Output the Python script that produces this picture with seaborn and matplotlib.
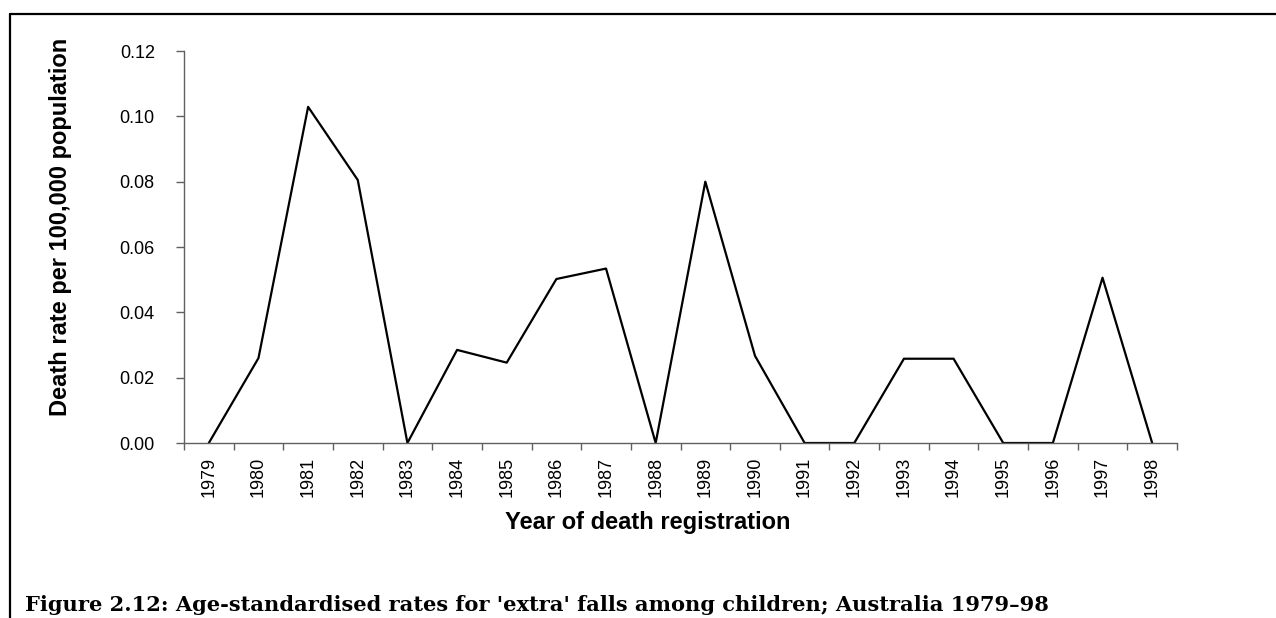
import numpy as np
import pandas as pd
import matplotlib
matplotlib.use("Agg")
import matplotlib.pyplot as plt
from matplotlib.lines import Line2D
import seaborn as sns

# Data
years = ["1979", "1980", "1981", "1982", "1983", "1984", "1985", "1986", "1987", "1988",
         "1989", "1990", "1991", "1992", "1993", "1994", "1995", "1996", "1997", "1998"]
rates = [0.0, 0.026, 0.1029, 0.0805, 0.0, 0.0285, 0.0246, 0.0502, 0.0534, 0.0,
         0.0800, 0.0267, 0.0, 0.0, 0.0258, 0.0258, 0.0, 0.0, 0.0506, 0.0]
y_ticks = [0.00, 0.02, 0.04, 0.06, 0.08, 0.10, 0.12]

x_label = "Year of death registration"
y_label = "Death rate per 100,000 population"
caption = "Figure 2.12: Age-standardised rates for 'extra' falls among children; Australia 1979\u201398"

sns.set_style("white")
plt.rcParams['font.family'] = ['Liberation Sans', 'DejaVu Sans']
plt.rcParams['text.color'] = 'black'
plt.rcParams['axes.labelcolor'] = 'black'
plt.rcParams['xtick.color'] = 'black'
plt.rcParams['ytick.color'] = 'black'

df = pd.DataFrame({"year": years, "rate": rates})

fig = plt.figure(figsize=(12.76, 6.18), dpi=100)
ax = fig.add_axes([184 / 1276, 175 / 618, 993 / 1276, 392 / 618])

sns.lineplot(data=df, x="year", y="rate", color="black", linewidth=1.6, sort=False, ax=ax)

n = len(years)
ax.set_xlim(-0.5, n - 0.5)
ax.set_ylim(0, 0.12)

# y axis
ax.set_yticks(y_ticks)
ax.set_yticklabels([f"{v:.2f}" for v in y_ticks])
ax.tick_params(axis="y", direction="out", length=6, width=1, color="#606060",
               labelcolor="black", pad=15, labelsize=13, left=True)

# x axis: tick marks between categories, labels at category centres
ax.set_xticks(np.arange(-0.5, n, 1.0))
ax.set_xticklabels([])
ax.set_xticks(np.arange(n), minor=True)
ax.set_xticklabels(years, minor=True, rotation=90)
ax.tick_params(axis="x", which="major", direction="out", length=5, width=1,
               color="#606060", bottom=True)
ax.tick_params(axis="x", which="minor", length=0, pad=10, labelsize=13,
               labelcolor="black", bottom=True)

for side in ["top", "right"]:
    ax.spines[side].set_visible(False)
for side in ["left", "bottom"]:
    ax.spines[side].set_color("#606060")
    ax.spines[side].set_linewidth(1)

ax.set_xlabel(x_label, fontsize=17, fontweight="bold", va="center", color="black")
ax.xaxis.set_label_coords((648 - 184) / 993, (443 - 522) / 392)
ax.set_ylabel(y_label, fontsize=17, fontweight="bold", va="center", color="black")
ax.yaxis.set_label_coords((61 - 184) / 993, (443 - 227) / 392)

# caption below the chart, sized to span the same width as in the reference
cap = fig.text(25 / 1276, 1 - 605 / 618, caption, family=["DejaVu Serif"],
               fontweight="bold", fontsize=15, ha="left", va="center", color="black")
renderer = fig.canvas.get_renderer()
w = cap.get_window_extent(renderer).width
cap.set_fontsize(15 * 1030 / w)

# frame around the chart (top and left edges visible)
fig.add_artist(Line2D([10 / 1276, 1.0], [1 - 14 / 618, 1 - 14 / 618],
                      transform=fig.transFigure, color="black", linewidth=1.6))
fig.add_artist(Line2D([10 / 1276, 10 / 1276], [0.0, 1 - 14 / 618],
                      transform=fig.transFigure, color="black", linewidth=1.6))

fig.savefig("out.png", dpi=100, facecolor="white")
